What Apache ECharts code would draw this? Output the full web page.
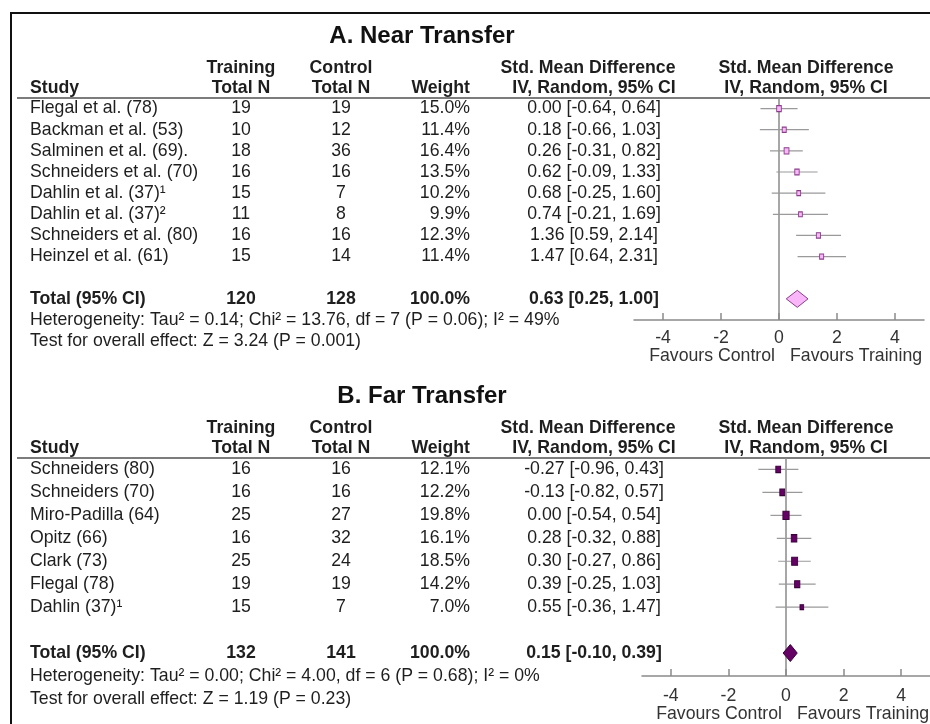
<!DOCTYPE html>
<html>
<head>
<meta charset="utf-8">
<script src="https://cdn.jsdelivr.net/npm/echarts@6/dist/echarts.min.js"></script>
<style>
  html, body { margin: 0; padding: 0; background: #fff; }
  #chart { width: 930px; height: 724px; }
</style>
</head>
<body>
<div id="chart"></div>
<script>
// ---- A. Near transfer ----
const nearStudies = ['Flegal et al. (78)', 'Backman et al. (53)', 'Salminen et al. (69).', 'Schneiders et al. (70)',
  'Dahlin et al. (37)¹', 'Dahlin et al. (37)²', 'Schneiders et al. (80)', 'Heinzel et al. (61)'];
const nearTraining = [19, 10, 18, 16, 15, 11, 16, 15];
const nearControl = [19, 12, 36, 16, 7, 8, 16, 14];
const nearWeight = [15.0, 11.4, 16.4, 13.5, 10.2, 9.9, 12.3, 11.4];
const nearSmd = [0.00, 0.18, 0.26, 0.62, 0.68, 0.74, 1.36, 1.47];
const nearLower = [-0.64, -0.66, -0.31, -0.09, -0.25, -0.21, 0.59, 0.64];
const nearUpper = [0.64, 1.03, 0.82, 1.33, 1.60, 1.69, 2.14, 2.31];
const nearTotals = [120, 128, 100.0];
const nearPooled = [0.63, 0.25, 1.00];
const nearStats = ['Heterogeneity: Tau² = 0.14; Chi² = 13.76, df = 7 (P = 0.06); I² = 49%',
  'Test for overall effect: Z = 3.24 (P = 0.001)'];

// ---- B. Far transfer ----
const farStudies = ['Schneiders (80)', 'Schneiders (70)', 'Miro-Padilla (64)', 'Opitz (66)', 'Clark (73)',
  'Flegal (78)', 'Dahlin (37)¹'];
const farTraining = [16, 16, 25, 16, 25, 19, 15];
const farControl = [16, 16, 27, 32, 24, 19, 7];
const farWeight = [12.1, 12.2, 19.8, 16.1, 18.5, 14.2, 7.0];
const farSmd = [-0.27, -0.13, 0.00, 0.28, 0.30, 0.39, 0.55];
const farLower = [-0.96, -0.82, -0.54, -0.32, -0.27, -0.25, -0.36];
const farUpper = [0.43, 0.57, 0.54, 0.88, 0.86, 1.03, 1.47];
const farTotals = [132, 141, 100.0];
const farPooled = [0.15, -0.10, 0.39];
const farStats = ['Heterogeneity: Tau² = 0.00; Chi² = 4.00, df = 6 (P = 0.68); I² = 0%',
  'Test for overall effect: Z = 1.19 (P = 0.23)'];

// shared axis ticks
const axisTicks = [-4, -2, 0, 2, 4];
const axisRange = [-5, 5];
const favourLabels = ['Favours Control', 'Favours Training'];

// ---- layout ----
const FONT = '"Liberation Sans", Arial, sans-serif';
const FS = 17.7;
const TEXT = '#1e1e1e';
const COL = { study: 30, train: 241, ctrl: 341, weight: 470, smd: 594, smdHead: 588, plotHead: 806 };

const panels = [
  {
    title: 'A. Near Transfer', studies: nearStudies, training: nearTraining, control: nearControl,
    weight: nearWeight, smd: nearSmd, lower: nearLower, upper: nearUpper,
    totals: nearTotals, pooled: nearPooled, stats: nearStats,
    grid: { left: 634, top: 98, width: 290, height: 222 },
    titleY: 36, head1Y: 68, head2Y: 88, labelMargin: 9, captionGap: 36,
    fill: '#f9b6f9', stroke: '#8a3d8a', markScale: [1.2, 1.55]
  },
  {
    title: 'B. Far Transfer', studies: farStudies, training: farTraining, control: farControl,
    weight: farWeight, smd: farSmd, lower: farLower, upper: farUpper,
    totals: farTotals, pooled: farPooled, stats: farStats,
    grid: { left: 642, top: 458, width: 295, height: 218 },
    titleY: 396, head1Y: 428, head2Y: 448, labelMargin: 11, captionGap: 38,
    fill: '#650065', stroke: '#3a003a', markScale: [1.4, 1.85]
  }
];

const fmt = v => v.toFixed(2);
const ciText = (m, l, u) => fmt(m) + ' [' + fmt(l) + ', ' + fmt(u) + ']';

function txt(x, y, text, align, bold, size, fill) {
  return {
    type: 'text',
    style: {
      x: x, y: y, text: text, align: align || 'left', verticalAlign: 'middle',
      font: (bold ? 'bold ' : '') + (size || FS) + 'px ' + FONT, fill: fill || TEXT
    }
  };
}

const grids = [], xAxes = [], yAxes = [], series = [], graphics = [];

// frame
graphics.push({
  type: 'polyline', shape: { points: [[11, 724], [11, 13], [930, 13]] },
  style: { stroke: '#111', lineWidth: 2, fill: null }, silent: true
});

panels.forEach((p, gi) => {
  const n = p.studies.length;
  const totalRow = n + 1;
  const axisRow = totalRow + 1;

  grids.push(Object.assign({ containLabel: false }, p.grid));
  xAxes.push({
    type: 'value', gridIndex: gi, min: axisRange[0], max: axisRange[1],
    axisLine: { onZero: false, lineStyle: { color: '#8a8a8a', width: 1.5 } },
    axisTick: { show: true, inside: true, length: 7, customValues: axisTicks,
      lineStyle: { color: '#8a8a8a', width: 1.5 } },
    axisLabel: { customValues: axisTicks, fontSize: FS, fontFamily: FONT, color: '#333', margin: p.labelMargin },
    splitLine: { show: false }
  });
  yAxes.push({
    type: 'value', gridIndex: gi, inverse: true, min: -0.5, max: axisRow, show: false
  });

  // titles and column headers
  const top = p.grid.top;
  graphics.push(txt(422, p.titleY, p.title, 'center', true, 24, '#111'));
  [
    txt(COL.study, p.head2Y, 'Study', 'left', true),
    txt(COL.train, p.head1Y, 'Training', 'center', true),
    txt(COL.train, p.head2Y, 'Total N', 'center', true),
    txt(COL.ctrl, p.head1Y, 'Control', 'center', true),
    txt(COL.ctrl, p.head2Y, 'Total N', 'center', true),
    txt(COL.weight, p.head2Y, 'Weight', 'right', true),
    txt(COL.smdHead, p.head1Y, 'Std. Mean Difference', 'center', true),
    txt(COL.smd, p.head2Y, 'IV, Random, 95% CI', 'center', true),
    txt(COL.plotHead, p.head1Y, 'Std. Mean Difference', 'center', true),
    txt(COL.plotHead, p.head2Y, 'IV, Random, 95% CI', 'center', true)
  ].forEach(g => graphics.push(g));
  graphics.push({
    type: 'line', shape: { x1: 17, y1: top, x2: 930, y2: top },
    style: { stroke: '#505050', lineWidth: 1.5 }, silent: true
  });

  // table rows
  const rows = [];
  p.studies.forEach((s, i) => rows.push({
    row: i, bold: false,
    cells: [s, String(p.training[i]), String(p.control[i]), p.weight[i].toFixed(1) + '%',
      ciText(p.smd[i], p.lower[i], p.upper[i])]
  }));
  rows.push({
    row: totalRow, bold: true,
    cells: ['Total (95% CI)', String(p.totals[0]), String(p.totals[1]), p.totals[2].toFixed(1) + '%',
      ciText(p.pooled[0], p.pooled[1], p.pooled[2])]
  });
  rows.push({ row: totalRow + 1, bold: false, cells: [p.stats[0]] });
  rows.push({ row: totalRow + 2, bold: false, cells: [p.stats[1]] });

  series.push({
    type: 'custom', xAxisIndex: gi, yAxisIndex: gi, clip: false, silent: true,
    data: rows.map(r => [0, r.row]),
    renderItem: (params, api) => {
      const r = rows[params.dataIndex];
      const y = api.coord([0, r.row])[1];
      const xs = [COL.study, COL.train, COL.ctrl, COL.weight, COL.smd];
      const al = ['left', 'center', 'center', 'right', 'center'];
      return {
        type: 'group',
        children: r.cells.map((c, k) => txt(xs[k], y, c, al[k], r.bold))
      };
    }
  });

  // zero reference line
  series.push({
    type: 'custom', xAxisIndex: gi, yAxisIndex: gi, clip: false, silent: true, z: 1,
    data: [[0, -0.5, axisRow]],
    renderItem: (params, api) => {
      const a = api.coord([api.value(0), api.value(1)]);
      const b = api.coord([api.value(0), api.value(2)]);
      return { type: 'line', shape: { x1: a[0], y1: a[1], x2: b[0], y2: b[1] },
        style: { stroke: '#8a8a8a', lineWidth: 1.5 } };
    }
  });

  // confidence intervals
  series.push({
    type: 'custom', xAxisIndex: gi, yAxisIndex: gi, silent: true, z: 2,
    data: p.studies.map((s, i) => [p.lower[i], p.upper[i], i]),
    renderItem: (params, api) => {
      const a = api.coord([api.value(0), api.value(2)]);
      const b = api.coord([api.value(1), api.value(2)]);
      return { type: 'line', shape: { x1: a[0], y1: a[1], x2: b[0], y2: b[1] },
        style: { stroke: '#9a9a9a', lineWidth: 1.2 } };
    }
  });

  // study estimates, sized by weight
  series.push({
    type: 'scatter', xAxisIndex: gi, yAxisIndex: gi, silent: true, z: 3,
    symbol: 'rect',
    symbolSize: v => [p.markScale[0] * Math.sqrt(v[2]), p.markScale[1] * Math.sqrt(v[2])],
    itemStyle: { color: p.fill, borderColor: p.stroke, borderWidth: 1, opacity: 1 },
    data: p.smd.map((m, i) => [m, i, p.weight[i]])
  });

  // pooled estimate diamond
  series.push({
    type: 'custom', xAxisIndex: gi, yAxisIndex: gi, silent: true, z: 3,
    data: [[p.pooled[0], p.pooled[1], p.pooled[2], totalRow]],
    renderItem: (params, api) => {
      const c = api.coord([api.value(0), api.value(3)]);
      const l = api.coord([api.value(1), api.value(3)]);
      const u = api.coord([api.value(2), api.value(3)]);
      const h = 8.5;
      return { type: 'polygon',
        shape: { points: [[l[0], c[1]], [c[0], c[1] - h], [u[0], c[1]], [c[0], c[1] + h]] },
        style: { fill: p.fill, stroke: p.stroke, lineWidth: 1 } };
    }
  });

  // favours captions either side of zero
  series.push({
    type: 'custom', xAxisIndex: gi, yAxisIndex: gi, clip: false, silent: true,
    data: [[0, axisRow]],
    renderItem: (params, api) => {
      const c = api.coord([api.value(0), api.value(1)]);
      return { type: 'group', children: [
        txt(c[0] - 4, c[1] + p.captionGap, favourLabels[0], 'right', false, FS, '#333'),
        txt(c[0] + 11, c[1] + p.captionGap, favourLabels[1], 'left', false, FS, '#333')
      ] };
    }
  });
});

const chart = echarts.init(document.getElementById('chart'));
chart.setOption({
  backgroundColor: '#fff',
  animation: false,
  grid: grids,
  xAxis: xAxes,
  yAxis: yAxes,
  series: series,
  graphic: { elements: graphics }
});
</script>
</body>
</html>
